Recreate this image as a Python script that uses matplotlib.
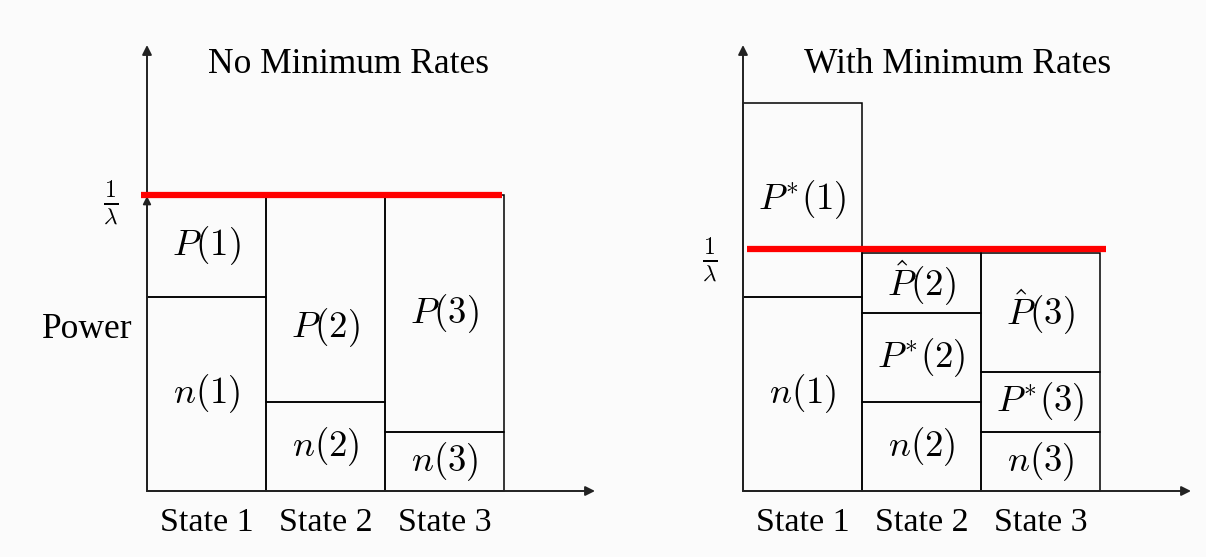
import matplotlib.pyplot as plt
from matplotlib.patches import Rectangle

plt.rcParams['mathtext.fontset'] = 'cm'
plt.rcParams['font.family'] = ['Liberation Serif', 'DejaVu Serif']

states = ['State 1', 'State 2', 'State 3']

# noise floor per state, same in both panels
noise = [1.94, 0.89, 0.59]

# water level 1/lambda
level_free = 2.96
level_min = 2.42

# power on top of the noise, no minimum rates
power_free = [1.02, 2.07, 2.37]

# with minimum rates: guaranteed part P* then extra part P-hat
power_min = [1.94, 0.89, 0.60]
power_extra = [0.0, 0.60, 1.19]

BG = '#fbfbfb'
W, H = 1206, 557


def make_axes(left_px):
    ax = fig.add_axes([left_px / W, (H - 491) / H, 448 / W, 446 / H])
    ax.set_xlim(0, 448 / 119)
    ax.set_ylim(0, 4.46)
    ax.axis('off')
    ax.patch.set_alpha(0)
    arrow = dict(arrowstyle='-|>', color='#222222', lw=1.4,
                 mutation_scale=14, shrinkA=0, shrinkB=0)
    ax.annotate('', xy=(1, 0), xytext=(0, 0), xycoords='axes fraction',
                arrowprops=arrow)
    ax.annotate('', xy=(0, 1), xytext=(0, 0), xycoords='axes fraction',
                arrowprops=arrow)
    for i, s in enumerate(states):
        ax.text(i + 0.5, -0.32, s, ha='center', va='center', fontsize=24.5)
    return ax


def box(ax, i, y0, h, label, ly=None):
    ax.add_patch(Rectangle((i, y0), 1, h, fill=False, ec='black', lw=1.1,
                           clip_on=False))
    if ly is None:
        ly = y0 + h / 2
    ax.text(i + 0.5, ly, label, ha='center', va='center', fontsize=26.5)


fig = plt.figure(figsize=(W / 100, H / 100), dpi=100, facecolor=BG)

# left panel
ax1 = make_axes(147)
for i in range(3):
    box(ax1, i, 0, noise[i], r'$n(%d)$' % (i + 1))
p_label_y = [None, 1.63, None]
for i in range(3):
    box(ax1, i, noise[i], power_free[i], r'$P(%d)$' % (i + 1), p_label_y[i])
ax1.plot([-0.05, 2.98], [level_free, level_free], color='#ff0000', lw=4.5,
         solid_capstyle='butt', clip_on=False, zorder=5)
ax1.annotate('', xy=(0, level_free - 0.01), xytext=(0, level_free - 0.3),
             arrowprops=dict(arrowstyle='-|>', color='#222222', lw=1.2,
                             mutation_scale=12, shrinkA=0, shrinkB=0))
ax1.text(-0.30, 2.88, r'$\frac{1}{\lambda}$', ha='center',
         va='center', fontsize=24)
ax1.text(-0.50, 1.61, 'Power', ha='center', va='center', fontsize=25.5)
ax1.text(1.69, 4.27, 'No Minimum Rates', ha='center', va='center',
         fontsize=25.5)

# right panel
ax2 = make_axes(743)
for i in range(3):
    box(ax2, i, 0, noise[i], r'$n(%d)$' % (i + 1))
    box(ax2, i, noise[i], power_min[i], r'$P^{*}(%d)$' % (i + 1))
    if power_extra[i] > 0:
        box(ax2, i, noise[i] + power_min[i], power_extra[i],
            r'$\hat{P}(%d)$' % (i + 1))
ax2.plot([0.03, 3.05], [level_min, level_min], color='#ff0000', lw=4.5,
         solid_capstyle='butt', clip_on=False, zorder=5)
ax2.text(-0.28, 2.31, r'$\frac{1}{\lambda}$', ha='center',
         va='center', fontsize=24)
ax2.text(1.80, 4.27, 'With Minimum Rates', ha='center', va='center',
         fontsize=25.5)

fig.savefig('out.png', dpi=100, facecolor=BG)
